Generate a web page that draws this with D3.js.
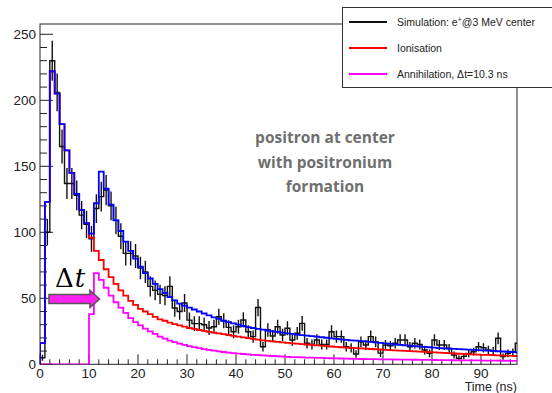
<!DOCTYPE html>
<html><head><meta charset="utf-8">
<script src="https://cdn.jsdelivr.net/npm/d3@7"></script>
<style>body{margin:0;background:#fff}svg{display:block}</style>
</head><body><svg id="chart" width="552" height="393"></svg>
<script>
// Counts per 1 ns time bin, starting at t = 0 ns
const simulation = [5,100,230,206,165,137,137,128,113,106,95,118,127,132,120,109,97,84,84,82,
  73,70,59,56,53,52,59,42.6,40,46.4,33.5,30.8,30.8,30,27.5,28.5,36,33,28,24.7,
  28.5,33.6,24.7,21,43,13.3,26,21.4,28.5,22.2,27.3,18.4,23.5,31,15.9,15,18.4,15,15,24.7,
  21,21,13.3,12.5,7.8,17,14.6,21,17,8.5,14.6,14,16,18.4,18.4,13.3,15.9,15,10.8,8.3,
  18.4,14.6,14.6,12,7,4.5,6,8.3,9.5,13.3,12.5,10.8,10,19.7,5.8,8.3,9,15.9];
const ionisation = [16,123,222,205,182,162,145,129,117,107,96,86,79,72,66,61,56,52,48,45,
  42,40,38,36,34,33,31.5,30.5,29.5,28.5,27.5,26.8,26,25.3,24.6,24,23.4,22.8,22.2,21.6,
  21,20.4,19.8,19.2,18.7,18.2,17.8,17.4,17,16.6,16.2,15.9,15.6,15.3,15,14.7,14.4,14.1,13.8,13.5,
  13.2,12.9,12.7,12.4,12.2,12,11.8,11.6,11.4,11.2,11,10.8,10.6,10.4,10.2,10,9.8,9.6,9.4,9.2,
  9,8.8,8.6,8.4,8.2,8,7.9,7.7,7.5,7.4,7.2,7.1,6.9,6.8,6.6,6.5,6.4,6.3];
const annihilation = [0,0,0,0,0,0,0,0,0,0,38,69,64,58,52,47,43,39,35,32,
  29.5,27,25,23,21,19.5,18,16.8,15.7,14.7,13.8,13,12.2,11.5,10.9,10.3,9.8,9.3,8.9,8.5,
  8.1,7.8,7.5,7.2,6.9,6.7,6.5,6.3,6.1,5.9,5.7,5.5,5.4,5.2,5.1,5,4.9,4.8,4.7,4.6,
  4.5,4.4,4.3,4.2,4.1,4,3.95,3.9,3.85,3.8,3.75,3.7,3.65,3.6,3.55,3.5,3.45,3.4,3.35,3.3,
  3.25,3.2,3.15,3.1,3.05,3,3,2.95,2.9,2.9,2.85,2.8,2.8,2.75,2.7,2.7,2.65,2.6];
const total = [16,123,222,205,182,162,145,129,117,107,99,122,146,133,121,109,101,93,86,80,
  74,69,65,61,57,54,51,48.5,46,44.5,43,41.5,40,38.5,37,35.5,34.5,33,32,31,
  30,29,28.2,27.5,26.8,26.2,25.6,25,24.5,24,23.5,23,22.5,22.1,21.7,21.3,20.9,20.5,20.1,19.7,
  19.3,18.9,18.5,18.2,17.9,17.6,17.3,17,16.6,16.2,15.8,15.4,15,14.7,14.4,14.1,13.8,13.5,13.2,12.9,
  12.6,12.3,12.1,11.9,11.7,11.5,11.3,11.1,10.9,10.7,10.5,10.3,10.1,9.9,9.7,9.5,9.3,9.1];
const xTicks = [0,10,20,30,40,50,60,70,80,90];
const yTicks = [0,50,100,150,200,250];
const xTitle = "Time (ns)";
const noteLines = ["positron at center", "with positronium", "formation"];

const svg = d3.select("#chart");
const W = 552, H = 393;
const frame = {left: 40, right: 517, top: 24, bottom: 364.3};

svg.append("rect").attr("width", W).attr("height", H).attr("fill", "#fff");

const x = d3.scaleLinear().domain([0, 97.35]).range([frame.left, frame.right]);
const y = d3.scaleLinear().domain([0, 257.8]).range([frame.bottom, frame.top]);

svg.append("defs").append("clipPath").attr("id", "plotClip")
  .append("rect").attr("x", frame.left).attr("y", frame.top)
  .attr("width", frame.right - frame.left).attr("height", frame.bottom - frame.top);

// Frame
svg.append("rect").attr("x", frame.left).attr("y", frame.top)
  .attr("width", frame.right - frame.left).attr("height", frame.bottom - frame.top)
  .attr("fill", "none").attr("stroke", "#222").attr("stroke-width", 1);

// Axes (ROOT style: major + minor ticks pointing inward)
const font = "'Liberation Sans', Arial, sans-serif";
const xMinor = d3.range(0, 98, 2);
const yMinor = d3.range(0, 258, 10);
const axisG = svg.append("g").attr("stroke", "#222").attr("stroke-width", 1);
xMinor.forEach(v => {
  const major = v % 10 === 0;
  axisG.append("line").attr("x1", x(v)).attr("x2", x(v))
    .attr("y1", frame.bottom).attr("y2", frame.bottom - (major ? 10 : 5));
});
yMinor.forEach(v => {
  const major = v % 50 === 0;
  axisG.append("line").attr("y1", y(v)).attr("y2", y(v))
    .attr("x1", frame.left).attr("x2", frame.left + (major ? 13 : 7));
});
svg.append("g").selectAll("text").data(xTicks).join("text")
  .attr("x", d => x(d)).attr("y", 377.5).attr("text-anchor", "middle")
  .attr("font-family", font).attr("font-size", 13.5).attr("fill", "#222").text(d => d);
svg.append("g").selectAll("text").data(yTicks).join("text")
  .attr("x", 36).attr("y", d => y(d) + 5).attr("text-anchor", "end")
  .attr("font-family", font).attr("font-size", 13.5).attr("fill", "#222").text(d => d);
svg.append("text").attr("x", frame.right).attr("y", 390.5).attr("text-anchor", "end")
  .attr("font-family", font).attr("font-size", 12.5).attr("fill", "#222").text(xTitle);

// Step outline of a 1 ns binned histogram
function stepPoints(vals) {
  const pts = [[0, 0]];
  vals.forEach((v, i) => { pts.push([i, v]); pts.push([i + 1, v]); });
  return pts;
}
const line = d3.line().x(d => x(d[0])).y(d => y(d[1]));
const plot = svg.append("g").attr("clip-path", "url(#plotClip)");

// Simulated spectrum with statistical error bars
plot.append("path").attr("d", line(stepPoints(simulation)))
  .attr("fill", "none").attr("stroke", "#111").attr("stroke-width", 1.4);
plot.append("g").selectAll("line").data(simulation).join("line")
  .attr("x1", (d, i) => x(i + 0.5)).attr("x2", (d, i) => x(i + 0.5))
  .attr("y1", d => y(d + Math.sqrt(d))).attr("y2", d => y(Math.max(0, d - Math.sqrt(d))))
  .attr("stroke", "#111").attr("stroke-width", 1.4);

[[ionisation, "#ff0000"], [annihilation, "#ff00ff"], [total, "#0000ff"]].forEach(([vals, col]) => {
  plot.append("path").attr("d", line(stepPoints(vals)))
    .attr("fill", "none").attr("stroke", col).attr("stroke-width", 1.8);
});

// Legend
const lg = svg.append("g");
lg.append("rect").attr("x", 342.5).attr("y", 7.5).attr("width", 220).attr("height", 80)
  .attr("fill", "#fff").attr("stroke", "#333").attr("stroke-width", 1);
const legendRows = [
  {col: "#111", y: 22},
  {col: "#ff0000", y: 48},
  {col: "#ff00ff", y: 74}
];
legendRows.forEach(r => {
  lg.append("line").attr("x1", 349).attr("x2", 387).attr("y1", r.y).attr("y2", r.y)
    .attr("stroke", r.col).attr("stroke-width", 1.8);
});
const t0 = lg.append("text").attr("x", 397).attr("y", 26).attr("font-family", font)
  .attr("font-size", 10.5).attr("fill", "#222");
t0.append("tspan").text("Simulation: e");
t0.append("tspan").attr("dy", -4).attr("font-size", 7).text("+");
t0.append("tspan").attr("dy", 4).text("@3 MeV center");
lg.append("text").attr("x", 397).attr("y", 52).attr("font-family", font)
  .attr("font-size", 10.5).attr("fill", "#222").text("Ionisation");
lg.append("text").attr("x", 397).attr("y", 78).attr("font-family", font)
  .attr("font-size", 10.5).attr("fill", "#222").text("Annihilation, \u0394t=10.3 ns");

// Annotation
svg.append("g").selectAll("text").data(noteLines).join("text")
  .attr("x", 325).attr("y", (d, i) => 143 + i * 24.5).attr("text-anchor", "middle")
  .attr("font-family", "'Open Sans', Lato, sans-serif").attr("font-weight", 700)
  .attr("font-size", 15.5).attr("fill", "#6f6f6f").text(d => d);

// Delta t marker with arrow
const dt = svg.append("text").attr("x", 55).attr("y", 287)
  .attr("font-family", "'DejaVu Serif', 'Liberation Serif', serif").attr("font-size", 26).attr("fill", "#000");
dt.append("tspan").text("\u0394");
dt.append("tspan").attr("font-style", "italic").attr("dx", 1).text("t");
svg.append("path")
  .attr("d", "M49,294.5 L90,294.5 L90,290.5 L99.5,299 L90,307.5 L90,303.5 L49,303.5 Z")
  .attr("fill", "#ff22ee").attr("stroke", "#555").attr("stroke-width", 1.6)
  .attr("stroke-linejoin", "miter");
</script></body></html>
